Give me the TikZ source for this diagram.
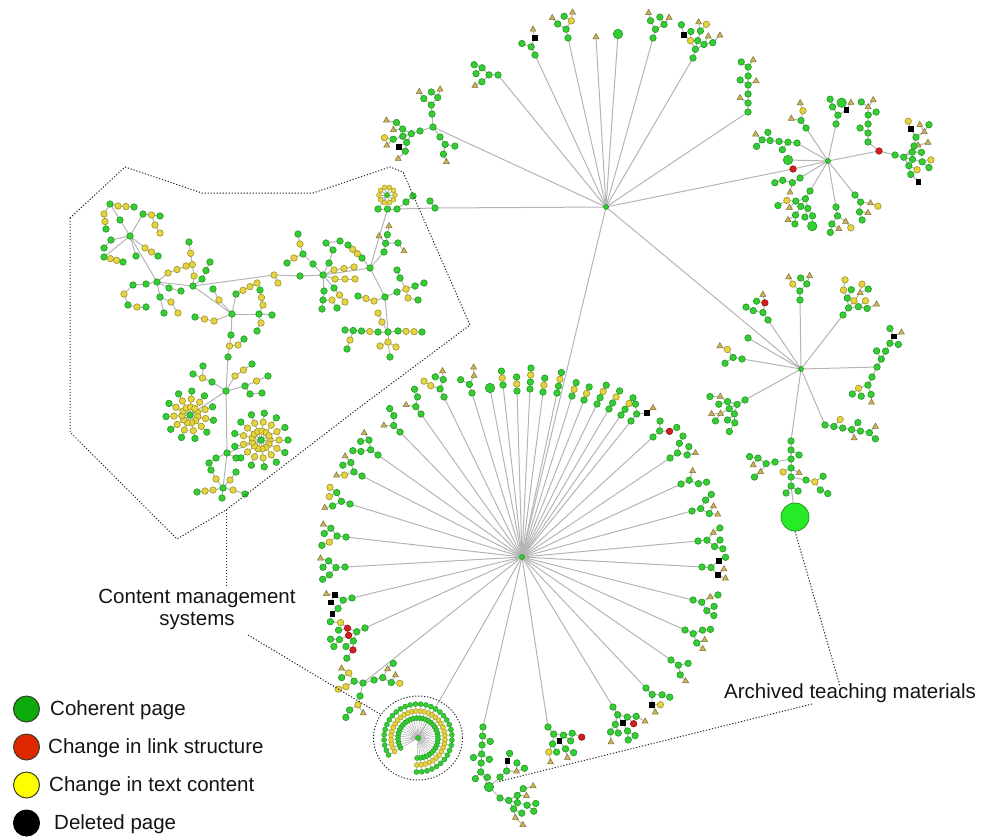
\documentclass[tikz,border=0pt]{standalone}
\usepackage{fontspec}
\setmainfont{Liberation Sans}
\usetikzlibrary{calc,shapes.geometric}

\definecolor{ngreen}{RGB}{52,205,52}
\definecolor{ngreenD}{RGB}{34,150,34}
\definecolor{nyellow}{RGB}{228,212,64}
\definecolor{nyellowD}{RGB}{158,146,40}
\definecolor{ntan}{RGB}{200,180,95}
\definecolor{ntanD}{RGB}{130,112,50}
\definecolor{nred}{RGB}{215,30,30}
\definecolor{nredD}{RGB}{140,20,20}
\definecolor{edgegray}{RGB}{180,180,180}
\definecolor{brightgreen}{RGB}{40,235,40}
\definecolor{lgGreen}{RGB}{12,170,12}
\definecolor{lgRed}{RGB}{222,40,0}
\definecolor{lgYellow}{RGB}{255,255,0}
\definecolor{lgRim}{RGB}{60,60,40}

% twig shapes: parent index, forward offset, sideways offset of every node
\def\shPA{{0,0,1,1,2,3,2}}
\def\shXA{{0,9,16,16,24,23,22}}
\def\shYA{{0,0,7,-7,10,-11,1}}
\def\shPB{{0,0,1,2,3,1,3,4,4}}
\def\shXB{{0,9,18,27,35,14,30,42,40}}
\def\shYB{{0,0,0,0,0,-8,8,5,-7}}
\def\shPC{{0,0,1,1,2}}
\def\shXC{{0,9,16,16,24}}
\def\shYC{{0,0,7,-7,9}}
\def\shPD{{0,0,1}}
\def\shXD{{0,7,14}}
\def\shYD{{0,0,0}}
\def\shPQ{{0,0,1,2}}
\def\shXQ{{0,7,14,21}}
\def\shYQ{{0,0,0,0}}
\def\shPE{{0,0,1,1,1,2,2,3,3,4,5,7,9,9}}
\def\shXE{{0,9,16,16,18,20,25,20,25,28,29,29,36,36}}
\def\shYE{{0,0,7,-7,0,15,9,-15,-9,0,20,-20,4,-4}}
\def\shPG{{0,0,1,2,3,4,1,3,3,5,5}}
\def\shXG{{0,9,18,27,36,45,14,31,32,52,50}}
\def\shYG{{0,0,0,0,0,0,-8,8,-8,5,-7}}

% the scene is run twice: first the links (between coordinates), then the nodes on top
\newif\ifnodepass
\newcommand\pt[4]{\ifnodepass\node[#1] (#2) at (#3,#4) {};\else\coordinate (#2) at (#3,#4);\fi}
\newcommand\lk[2]{\ifnodepass\else\draw[lnk] (#1) -- (#2);\fi}

% \bush[turn]{shape}{name}{parent}{x}{y}{styles}: a twig hung on a parent
\newcommand\bush[7][0]{%
  \pgfmathanglebetweenpoints{\pgfpointanchor{#4}{center}}{\pgfqpoint{#5pt}{-#6pt}}%
  \let\bangraw\pgfmathresult
  \pgfmathsetmacro\bang{\bangraw+#1}%
  \edef\bP{\csname shP#2\endcsname}%
  \edef\bX{\csname shX#2\endcsname}%
  \edef\bY{\csname shY#2\endcsname}%
  \begin{scope}[shift={(#5,#6)},rotate=\bang]
    \foreach \s [count=\k from 0] in {#7} {%
      \pgfmathsetmacro\lx{\bX[\k]}%
      \pgfmathsetmacro\ly{\bY[\k]}%
      \ifnodepass
        \node[\s] (#3-\k) at (\lx,\ly) {};
      \else
        \coordinate (#3-\k) at (\lx,\ly);
        \ifnum\k>0
          \pgfmathtruncatemacro\lp{\bP[\k]}%
          \draw[lnk] (#3-\lp) -- (#3-\k);
        \fi
      \fi
    }
  \end{scope}
  \lk{#4}{#3-0}%
}

% \chain{name}{from}{x1}{y1}{x2}{y2}{styles}: evenly spaced nodes in a row
\newcommand\chain[7]{%
  \gdef\chn{0}%
  \foreach \s in {#7} {\pgfmathtruncatemacro\chtmp{\chn+1}\global\let\chn\chtmp}%
  \foreach \s [count=\j from 0] in {#7} {%
    \pgfmathsetmacro\chfrac{\j/max(\chn-1,1)}%
    \ifnodepass
      \node[\s] (#1-\j) at ($(#3,#4)!\chfrac!(#5,#6)$) {};
    \else
      \coordinate (#1-\j) at ($(#3,#4)!\chfrac!(#5,#6)$);
      \ifnum\j=0 \edef\chprev{#2}\else\pgfmathtruncatemacro\jp{\j-1}\edef\chprev{#1-\jp}\fi
      \draw[lnk] (\chprev) -- (#1-\j);
    \fi
  }}

% \radial{name}{centre}{arms}{first angle}{step}{r0}{dr}{styles}: a star of chains
\newcommand\radial[8]{%
  \foreach \a in {1,...,#3} {%
    \pgfmathsetmacro\rang{#4+(\a-1)*(#5)}%
    \foreach \s [count=\j from 0] in {#8} {%
      \pgfmathsetmacro\rr{#6+\j*(#7)}%
      \ifnodepass
        \node[\s] (#1-\a-\j) at ($(#2)+(\rang:\rr)$) {};
      \else
        \coordinate (#1-\a-\j) at ($(#2)+(\rang:\rr)$);
        \ifnum\j=0 \edef\chprev{#2}\else\pgfmathtruncatemacro\jp{\j-1}\edef\chprev{#1-\a-\jp}\fi
        \draw[lnk] (\chprev) -- (#1-\a-\j);
      \fi
    }}}

\newcommand\scene{%
% ---------- hubs ----------
\pt{hubn}{H1}{606}{207}
\pt{hubn}{H2}{801}{369}
\pt{hubn}{H3}{522}{557}
\pt{hubn}{H4}{828}{161}
\pt{gns}{S}{418}{738}
\pt{rn}{rd1}{793}{169}
\lk{H1}{H2}\lk{H1}{H3}\lk{H1}{rd1}\lk{rd1}{H4}\lk{H3}{S}
% ---------- upper fan ----------
\pt{gn}{ta0}{433}{127}\lk{H1}{ta0}
\bush{A}{tb}{ta0}{432}{114}{gn,gn,gn,gn,tn,tn,gn}
\bush{E}{tc}{ta0}{420}{131}{gn,gn,gn,gn,gn,gn,tn,gn,kn,gn,tn,tn,yn,tn}
\bush{C}{td}{ta0}{440}{137}{gn,gn,gn,gn,tn}
\bush[50]{A}{te}{H1}{498}{75}{gn,gn,gn,gn,gn,tn,gn}
\bush{C}{tf}{H1}{535}{55}{gn,gn,kn,gn,tn}
\bush{A}{tg}{H1}{568}{38}{gn,gn,yn,gn,tn,tn,gn}
\pt{tn}{th}{596}{37}\lk{H1}{th}
\pt{bgn}{ti}{618}{34}\lk{H1}{ti}
\bush{A}{tj}{H1}{653}{38}{gn,gn,gn,gn,tn,tn,gn}
\bush[15]{E}{tk}{H1}{693}{58}{gn,gn,gn,yn,gn,gn,tn,kn,gn,gn,tn,gn,yn,tn}
\bush[56]{G}{tl}{H1}{748}{112}{gn,gn,gn,gn,gn,gn,tn,tn,gn,tn,gn}
% ---------- upper right star ----------
\pt{bgn}{h4g}{788}{160}\lk{H4}{h4g}
\bush[25]{B}{h4a}{H4}{797}{143}{gn,gn,gn,gn,gn,gn,gn,tn,gn}
\bush{C}{h4b}{H4}{806}{128}{gn,gn,yn,tn,tn}
\bush{A}{h4c}{H4}{836}{124}{gn,gn,kn,gn,tn,gn,bgn}
\pt{rn}{rd2}{879}{151}\lk{H4}{rd2}
\bush{E}{h4e}{rd2}{895}{155}{gn,gn,gn,gn,gn,gn,yn,tn,gn,gn,kn,tn,gn,yn}
\bush[30]{A}{h4f}{h4e-1}{914}{146}{gn,gn,tn,kn,gn,yn,tn}
\bush[-51]{B}{h4h}{rd2}{868}{142}{gn,gn,gn,gn,tn,gn,gn,tn,gn}
\bush{A}{h4i}{H4}{855}{195}{gn,gn,gn,tn,gn,yn,tn}
\bush{A}{h4j}{H4}{836}{207}{gn,gn,gn,tn,gn,yn,tn}
\bush{E}{h4k}{H4}{810}{191}{gn,gn,gn,gn,gn,yn,tn,gn,gn,gn,gn,bgn,tn,gn}
\bush{C}{h4l}{H4}{800}{178}{gn,gn,gn,tn,gn}
% ---------- right star ----------
\bush{A}{h2a}{H2}{768}{320}{gn,gn,rn,gn,tn,gn,gn}
\pt{gn}{h2b}{748}{338}\lk{H2}{h2b}
\bush{C}{h2c}{H2}{742}{359}{gn,gn,yn,gn,tn}
\bush{E}{h2d}{H2}{745}{400}{gn,gn,gn,gn,gn,tn,gn,gn,gn,tn,gn,gn,tn,gn}
\bush{A}{h2e}{H2}{800}{300}{gn,gn,gn,yn,tn,tn,gn}
\bush{E}{h2f}{H2}{843}{315}{gn,gn,gn,gn,yn,gn,yn,yn,gn,tn,tn,yn,gn,yn}
\bush[60]{B}{h2g}{H2}{877}{367}{gn,gn,gn,gn,kn,gn,gn,tn,gn}
\bush{A}{h2h}{h2g-0}{872}{377}{gn,gn,yn,gn,gn,tn,gn}
\bush[57]{G}{h2i}{H2}{825}{425}{gn,gn,gn,gn,gn,gn,yn,tn,gn,gn,tn}
\bush[8]{G}{h2j}{H2}{791}{441}{gn,gn,gn,gn,gn,gn,gn,yn,tn,gn,gn}
\bush{A}{h2k}{h2j-2}{775}{462}{gn,gn,gn,tn,gn,gn,tn}
\bush{C}{h2l}{h2j-4}{806}{480}{gn,yn,gn,gn,gn}
\pt{bigball}{BG}{795}{517}\lk{h2j-5}{BG}
% ---------- big lower wheel ----------
\bush{D}{u1}{H3}{503}{385}{gn,yn,gn}
\bush{D}{u2}{H3}{517}{391}{gn,yn,gn}
\bush{Q}{u3}{H3}{530}{389}{gn,gn,yn,gn}
\bush{D}{u4}{H3}{543}{392}{gn,yn,gn}
\bush{Q}{u5}{H3}{557}{393}{gn,gn,yn,gn}
\bush{D}{u6}{H3}{572}{396}{gn,yn,gn}
\bush{D}{u7}{H3}{584}{400}{gn,yn,gn}
\bush{Q}{u8}{H3}{597}{404}{gn,gn,yn,gn}
\bush{Q}{u9}{H3}{609}{409}{gn,gn,yn,gn}
\bush{Q}{u10}{H3}{621}{415}{gn,gn,yn,gn}
\bush{C}{v1}{H3}{631}{421}{gn,gn,kn,gn,tn}
\bush{C}{v2}{H3}{653}{437}{gn,gn,rn,gn,gn}
\bush{A}{v3}{H3}{670}{458}{gn,gn,gn,gn,tn,gn,gn}
\bush{C}{v4}{H3}{681}{484}{gn,gn,gn,tn,gn}
\bush{A}{v5}{H3}{692}{511}{gn,gn,gn,gn,tn,gn,tn}
\bush{A}{v6}{H3}{698}{541}{gn,gn,gn,tn,gn,gn,gn}
\bush{A}{v7}{H3}{702}{567}{gn,gn,kn,kn,tn,gn,tn}
\bush{A}{v8}{H3}{693}{600}{gn,gn,gn,tn,gn,gn,gn}
\bush{A}{v9}{H3}{685}{630}{gn,gn,gn,gn,tn,gn,tn}
\bush{C}{v10}{H3}{671}{660}{gn,gn,gn,gn,tn}
\bush{A}{v11}{H3}{646}{688}{gn,gn,kn,gn,tn,gn,yn}
\bush{E}{v12}{H3}{613}{707}{gn,gn,gn,gn,kn,gn,gn,gn,rn,gn,tn,tn,gn,gn}
\bush[30]{E}{v13}{H3}{548}{727}{gn,gn,gn,gn,kn,yn,gn,gn,gn,gn,tn,rn,tn,gn}
\bush[10]{G}{v14}{H3}{483}{727}{gn,gn,gn,gn,gn,gn,gn,gn,gn,gn,gn}
\pt{bgn}{v14b}{489}{787}\lk{v14-5}{v14b}
\bush[30]{E}{v15}{v14b}{500}{798}{gn,gn,gn,gn,gn,tn,gn,gn,tn,gn,tn,tn,gn,gn}
\bush{A}{v16}{v14b}{500}{777}{gn,gn,tn,kn,gn,gn,gn}
\bush[-50]{A}{v17}{H3}{363}{683}{gn,gn,yn,yn,tn,yn,gn}
\bush{A}{v18}{v17-0}{374}{680}{gn,gn,gn,tn,yn,gn,tn}
\bush{C}{v19}{v17-0}{360}{696}{gn,yn,gn,tn,gn}
\bush{E}{v20}{H3}{365}{628}{gn,gn,rn,gn,rn,yn,gn,rn,gn,gn,gn,gn,gn,gn}
\bush{A}{v21}{H3}{352}{598}{gn,gn,kn,gn,tn,kn,kn}
\bush{A}{v22}{H3}{345}{567}{gn,gn,gn,gn,tn,gn,gn}
\bush{A}{v23}{H3}{346}{537}{gn,gn,gn,yn,tn,gn,gn}
\bush{A}{v24}{H3}{350}{504}{gn,gn,gn,gn,yn,tn,yn}
\bush{A}{v25}{H3}{362}{476}{gn,gn,gn,yn,tn,tn,gn}
\bush{A}{v26}{H3}{378}{455}{gn,gn,gn,gn,tn,gn,gn}
\bush{C}{v27}{H3}{400}{432}{gn,gn,gn,tn,gn}
\bush{C}{v28}{H3}{421}{414}{gn,gn,gn,tn,gn}
\bush{A}{v29}{H3}{444}{397}{gn,gn,gn,yn,tn,yn,gn}
\bush{C}{v30}{H3}{472}{393}{gn,gn,tn,gn,tn}
\pt{bgn}{v31}{490}{388}\lk{H3}{v31}
% ---------- small sunburst ----------
\begin{scope}[lnk/.style={draw=gray!70,line width=0.45pt}]
  \radial{Sa}{S}{35}{150}{8.9}{20}{7}{gns,yns,gns}
\end{scope}
% ---------- content management systems ----------
\pt{gns}{R0}{387}{195}
\radial{Rf}{R0}{10}{0}{36}{8}{0}{yns}
\chain{Rb}{R0}{378}{209}{397}{209}{gn,gn,gn}
\chain{Rc}{Rb-2}{406}{202}{413}{196}{gn,gn}
\pt{gn}{cA}{435}{208}
\pt{gn}{cB}{430}{201}
\pt{gn}{c1}{370}{268}
\pt{gn}{c2}{385}{297}
\pt{gn}{c3}{323}{275}
\pt{gn}{c4}{388}{332}
\lk{H1}{cA}\lk{cA}{Rb-2}\lk{cA}{cB}\lk{Rb-1}{c1}
\lk{c1}{c2}\lk{c2}{c4}\lk{c1}{c3}
\chain{k1a}{c1}{384}{252}{389}{226}{gn,gn,gn,tn}
\chain{k1b}{k1a-1}{379}{236}{379}{236}{tn}
\chain{k1c}{k1a-1}{398}{243}{404}{251}{gn,tn}
\chain{k1d}{c1}{362}{258}{348}{245}{gn,yn,yn,gn}
\chain{k2a}{c2}{397}{292}{424}{283}{gn,yn,gn,gn}
\chain{k2b}{k2a-1}{408}{298}{418}{300}{yn,gn}
\chain{k2c}{k2a-1}{400}{278}{397}{270}{gn,gn}
\chain{k2d}{c2}{374}{301}{358}{296}{yn,yn,gn}
\chain{k4a}{c4}{378}{332}{345}{330}{gn,yn,gn,gn,gn}
\chain{k4b}{k4a-3}{350}{340}{347}{349}{yn,gn}
\chain{k4c}{c4}{398}{331}{422}{332}{gn,yn,yn,gn}
\chain{k4d}{c4}{388}{342}{390}{357}{yn,gn}
\chain{k4e}{k4d-0}{380}{346}{380}{346}{yn}
\chain{k4f}{k4d-0}{396}{347}{396}{347}{yn}
\chain{k4g}{c4}{382}{322}{378}{313}{yn,yn}
\chain{k3a}{c3}{313}{264}{303}{254}{gn,gn}
\chain{k3b}{k3a-1}{294}{258}{287}{263}{yn,gn}
\chain{k3c}{k3a-1}{300}{244}{298}{234}{yn,gn}
\chain{k3d}{c3}{329}{263}{333}{250}{gn,gn}
\chain{k3e}{k3d-1}{326}{243}{340}{241}{gn,gn}
\chain{k3f}{c3}{334}{270}{354}{267}{yn,yn,yn}
\chain{k3g}{c3}{335}{279}{355}{279}{yn,yn,yn}
\chain{k3h}{c3}{334}{288}{345}{302}{gn,yn,yn}
\chain{k3i}{c3}{324}{291}{322}{309}{gn,gn,gn}
\chain{k3j}{k3i-1}{332}{300}{337}{308}{yn,gn}
\chain{m}{c3}{300}{276}{274}{275}{gn,yn}
\pt{yn}{m2}{278}{283}
\pt{gn}{n5}{193}{286}
\pt{gn}{c5}{157}{282}
\pt{gn}{c7}{232}{314}
\pt{gn}{c6}{130}{236}
\lk{m-1}{m2}\lk{m-1}{n5}\lk{n5}{c5}\lk{c5}{c6}\lk{n5}{c7}
\chain{k5a}{n5}{194}{276}{189}{242}{yn,yn,yn,gn}
\chain{k5b}{n5}{202}{279}{210}{262}{gn,gn,gn}
\chain{k5d}{c5}{168}{273}{186}{266}{yn,yn,yn}
\chain{k5e}{c5}{169}{288}{181}{291}{gn,gn}
\chain{k5f}{c5}{146}{284}{133}{285}{gn,gn}
\chain{k5g}{k5f-1}{124}{294}{128}{305}{yn,gn}
\chain{k5h}{k5g-1}{137}{307}{146}{307}{yn,gn}
\chain{k5i}{c5}{160}{297}{164}{313}{gn,gn}
\chain{k5j}{k5i-0}{171}{302}{178}{313}{yn,yn}
\chain{k6a}{c6}{120}{220}{110}{204}{gn,gn}
\chain{k6b}{k6a-1}{118}{206}{134}{207}{yn,yn,gn}
\chain{k6c}{k6a-1}{104}{214}{106}{229}{yn,yn,gn}
\chain{k6d}{c6}{111}{240}{104}{248}{gn,gn}
\chain{k6e}{c6}{104}{257}{123}{262}{gn,yn,yn,gn}
\chain{k6f}{c6}{143}{214}{160}{216}{gn,yn,gn}
\chain{k6g}{k6f-1}{155}{225}{160}{233}{yn,yn}
\chain{k6h}{c6}{145}{248}{158}{256}{yn,yn,gn}
\chain{k6i}{c6}{136}{256}{136}{256}{gn}
\chain{k7a}{c7}{236}{294}{257}{283}{gn,yn,yn,yn}
\chain{k7b}{c7}{219}{300}{213}{289}{yn,gn}
\chain{k7c}{c7}{259}{314}{272}{315}{gn,gn}
\chain{k7d}{k7c-0}{263}{305}{260}{290}{yn,yn,gn}
\chain{k7e}{k7c-0}{261}{323}{257}{331}{yn,gn}
\chain{k7f}{c7}{214}{321}{195}{317}{yn,yn,gn}
\chain{k7g}{c7}{231}{335}{228}{357}{gn,yn,gn}
\chain{k7h}{k7g-1}{238}{345}{244}{339}{yn,gn}
\pt{gn}{c8}{226}{391}
\pt{gn}{c9}{190}{415}
\pt{gn}{n10}{227}{453}
\pt{gn}{c11}{261}{440}
\pt{gn}{c10}{223}{488}
\lk{k7g-2}{c8}\lk{c8}{c9}\lk{c8}{n10}\lk{n10}{c10}\lk{n10}{c11}
\chain{k8a}{c8}{212}{382}{193}{374}{gn,yn,gn}
\chain{k8b}{k8a-1}{203}{366}{203}{366}{gn}
\chain{k8c}{c8}{235}{376}{252}{364}{yn,yn,gn}
\chain{k8d}{c8}{245}{386}{268}{376}{gn,yn,gn}
\chain{k8e}{k8d-0}{250}{394}{262}{393}{gn,gn}
\radial{k9}{c9}{11}{-20}{32.7}{8}{8}{yn,yn,gn}
\radial{k11}{c11}{13}{0}{27.7}{9}{9}{yn,yn,gn}
\chain{k10a}{c10}{213}{490}{197}{492}{yn,yn,gn}
\chain{k10b}{c10}{233}{490}{245}{494}{yn,gn}
\chain{k10c}{c10}{216}{479}{211}{470}{yn,gn}
\chain{k10d}{c10}{230}{480}{236}{472}{yn,gn}
\chain{k10e}{c10}{222}{498}{222}{498}{gn}
\chain{k10f}{n10}{216}{458}{209}{463}{gn,gn}
\chain{k10g}{n10}{236}{458}{236}{458}{gn}
}

\begin{document}
\begin{tikzpicture}[x=1pt,y=-1pt,
  nd/.style={circle,inner sep=0pt,minimum size=6.5pt,line width=0.6pt},
  gn/.style={nd,fill=ngreen,draw=ngreenD},
  yn/.style={nd,fill=nyellow,draw=nyellowD},
  rn/.style={nd,fill=nred,draw=nredD},
  kn/.style={rectangle,inner sep=0pt,minimum size=4.8pt,fill=black,draw=black},
  tn/.style={regular polygon,regular polygon sides=3,inner sep=0pt,minimum size=7pt,fill=ntan,draw=ntanD,line width=0.5pt},
  gns/.style={gn,minimum size=5pt,line width=0.4pt},
  yns/.style={yn,minimum size=5pt,line width=0.4pt},
  bgn/.style={gn,minimum size=9.5pt},
  hubn/.style={gn,minimum size=5pt},
  bigball/.style={circle,inner sep=0pt,minimum size=28pt,fill=brightgreen,draw=ngreenD,line width=0.8pt},
  lnk/.style={draw=edgegray,line width=1pt},
  dotln/.style={draw=black!85,line width=1pt,dash pattern=on 1.2pt off 1.8pt},
  lbl/.style={font=\fontsize{20.5}{23}\selectfont,text=black!92,inner sep=0pt},
  lgd/.style={circle,minimum size=26pt,inner sep=0pt,line width=1pt,draw=lgRim},
]
\useasboundingbox (0,0) rectangle (984,838);

% links first, then the nodes over them
\nodepassfalse
\scene
\nodepasstrue
\scene

% ---------- dotted outlines and call-outs ----------
\draw[dotln] (70,218) -- (125,167) -- (202,193) -- (313,193) -- (390,167) -- (403,172)
  -- (470,325) -- (360,407) -- (226,510) -- (177,539) -- (70,432) -- cycle;
\draw[dotln] (S) ellipse [x radius=44.5, y radius=42];
\coordinate (pd1) at (226,510);
\coordinate (pd2) at (226,588);
\coordinate (ld1) at (248,635);
\coordinate (ld2) at (380,714);
\coordinate (ad1) at (840,686);
\coordinate (ad2) at (812,704);
\coordinate (ad3) at (497,782);
\draw[dotln] (pd1) -- (pd2);
\draw[dotln] (ld1) -- (ld2);
\draw[dotln] (BG.south) -- (ad1);
\draw[dotln] (ad2) -- (ad3);

\node[lbl,anchor=base] (cms1) at (197,603) {Content management};
\node[lbl,anchor=base] (cms2) at (197,625) {systems};
\node[lbl,anchor=base] (arch) at (850,698) {Archived teaching materials};

% ---------- legend ----------
\node[lgd,fill=lgGreen] (lg1) at (26.5,709) {};
\node[lgd,fill=lgRed] (lg2) at (26.5,747) {};
\node[lgd,fill=lgYellow] (lg3) at (26.5,785) {};
\node[lgd,fill=black,draw=black] (lg4) at (26.5,823) {};
\node[lbl,anchor=base west] (lt1) at (50,715) {Coherent page};
\node[lbl,anchor=base west] (lt2) at (48,753) {Change in link structure};
\node[lbl,anchor=base west] (lt3) at (49,791) {Change in text content};
\node[lbl,anchor=base west] (lt4) at (54,829) {Deleted page};
\end{tikzpicture}
\end{document}
